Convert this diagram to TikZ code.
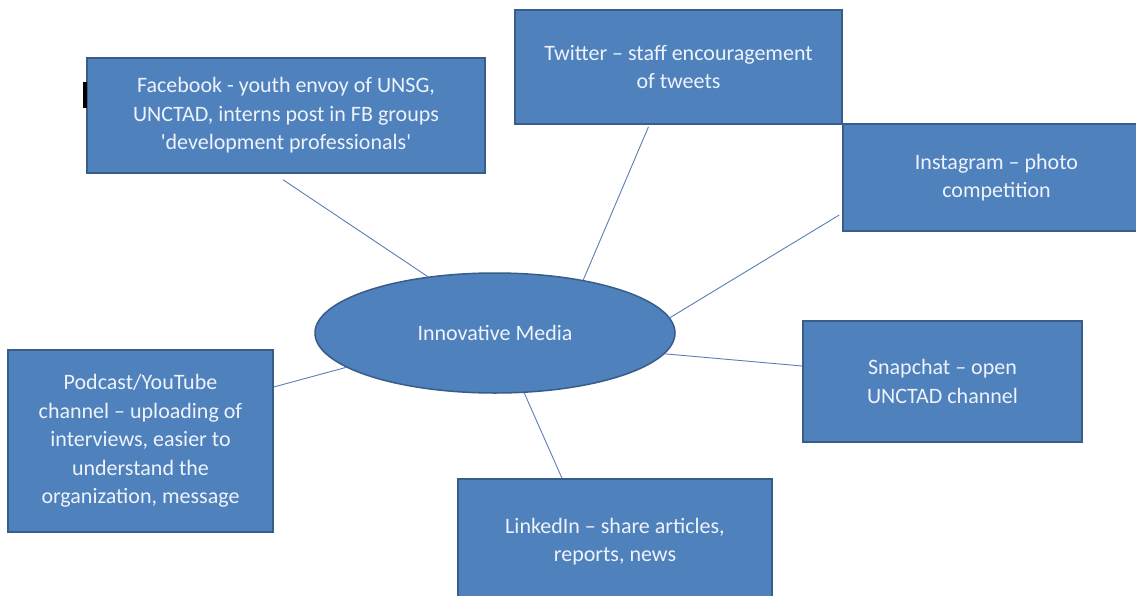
\documentclass[tikz,border=0pt]{standalone}
\usepackage{fontspec}
\setmainfont{Carlito}
\usepackage{tikz}
\usetikzlibrary{shapes.geometric}
\definecolor{boxfill}{HTML}{4F81BD}
\definecolor{boxline}{HTML}{385D8A}
\definecolor{linkcol}{HTML}{5A7FB5}
\definecolor{boxtext}{HTML}{EEF3FB}
\tikzset{
    mybox/.style={rectangle, draw=boxline, fill=boxfill, line width=1.5pt, text=boxtext, align=center, inner sep=0pt, font=\fontsize{22}{28.5}\selectfont},
    myhub/.style={ellipse, draw=boxline, fill=boxfill, line width=1.5pt, text=boxtext, inner sep=0pt, minimum width=360pt, minimum height=120pt, font=\fontsize{22}{28.5}\selectfont},
    mylink/.style={draw=linkcol, line width=0.9pt}
}
\begin{document}
\begin{tikzpicture}[x=1pt,y=-1pt]
    \useasboundingbox (0,0) rectangle (1136,595);
    \clip (0,0) rectangle (1136,595);
    \fill[white] (0,0) rectangle (1136,595);
    \draw (495,333) node[myhub] (media) {Innovative Media};
    \draw (286,115.5) node[mybox,minimum width=398pt,minimum height=115pt] (facebook) {Facebook - youth envoy of UNSG,\\UNCTAD, interns post in FB groups\\\textquotesingle development professionals\textquotesingle};
    \fill[black] (83,82) rectangle (87,108);
    \draw[mylink] (media.140) -- ([shift={(-3pt,-6pt)}]facebook.south);
    \draw (678.5,67) node[mybox,minimum width=327pt,minimum height=114pt] (twitter) {Twitter -- staff encouragement\\of tweets};
    \draw[mylink] (media.31) -- ([shift={(-30pt,-2pt)}]twitter.south);
    \draw (996.5,177.5) node[mybox,minimum width=307pt,minimum height=107pt] (instagram) {Instagram -- photo\\competition};
    \draw[mylink] (media.5) -- ([shift={(-3pt,-37.5pt)}]instagram.west);
    \draw (942.5,381.5) node[mybox,minimum width=279pt,minimum height=121pt] (snapchat) {Snapchat -- open\\UNCTAD channel};
    \draw[mylink] (media.-7) -- ([yshift=15.5pt]snapchat.west);
    \draw (140.5,441) node[mybox,minimum width=265pt,minimum height=182pt] (podcast) {Podcast/YouTube\\channel -- uploading of\\interviews, easier to\\understand the\\organization, message};
    \draw[mylink] (media.193) -- ([yshift=54pt]podcast.east);
    \draw (615,541.5) node[mybox,minimum width=314pt,minimum height=125pt] (linkedin) {LinkedIn -- share articles,\\reports, news};
    \draw[mylink] (media.-64) -- ([xshift=-53pt]linkedin.north);
\end{tikzpicture}
\end{document}
